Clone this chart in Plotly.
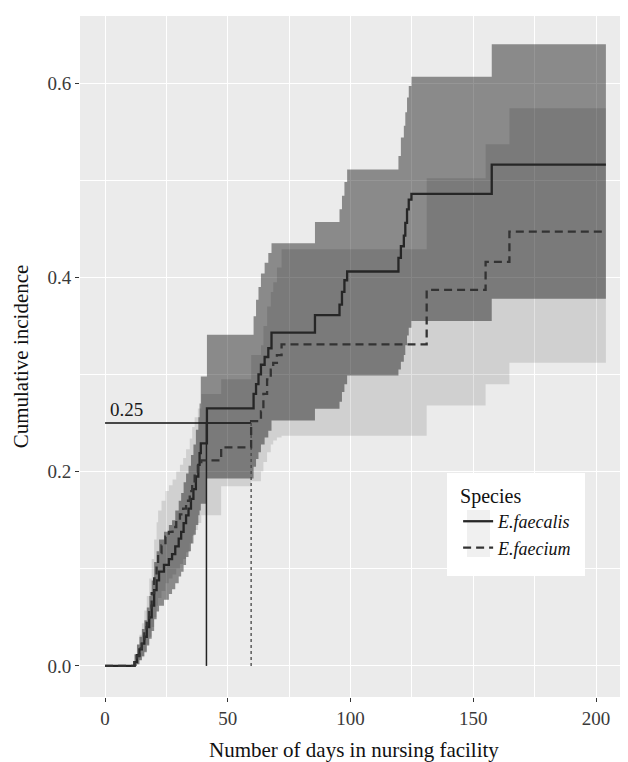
import plotly.graph_objects as go

# ---------------- data ----------------
faecalis_t = [0, 12, 13, 14, 15, 16, 17, 18, 19, 20, 21, 22, 24, 26, 27.3, 28.6, 30, 31, 32, 33,
              34, 35, 36, 37, 38, 38.5, 39, 41.5, 60.5, 61.5, 62.5, 63.5, 65, 66.5, 67.8, 85.5,
              95.5, 96.5, 97.5, 98.6, 119.5, 120.5, 121.7, 122.3, 123, 123.7, 124.8, 157.5, 204]
faecalis_est = [0, .004, .011, .017, .023, .030, .040, .050, .062, .078, .088, .097, .104, .110,
                .115, .123, .131, .138, .147, .155, .162, .172, .182, .195, .207, .219, .229, .265,
                .280, .290, .300, .310, .318, .327, .343, .361, .372, .385, .397, .406, .420, .432,
                .443, .456, .470, .480, .486, .516, .516]
faecalis_lo = [0, 0, .002, .006, .010, .014, .021, .028, .036, .048, .056, .062, .068, .074, .079,
               .085, .092, .097, .104, .112, .118, .126, .135, .145, .155, .160, .167, .193, .205,
               .213, .220, .228, .235, .242, .2526, .2646, .272, .282, .290, .299, .305, .313,
               .320, .330, .340, .348, .355, .378, .378]
faecalis_hi = [0, .012, .022, .030, .038, .047, .060, .072, .088, .107, .118, .130, .138, .145,
               .150, .160, .170, .178, .189, .198, .206, .217, .228, .243, .256, .270, .298, .341,
               .360, .377, .390, .404, .415, .425, .435, .457, .470, .484, .498, .511, .525, .544,
               .556, .570, .585, .597, .6065, .640, .640]

faecium_t = [0, 12, 13, 14, 15, 16, 17, 18, 19, 20, 21, 21.6, 23, 24.6, 26, 27.5, 29, 30.5, 31.8,
             33, 34.5, 35.5, 36.5, 37.8, 39.2, 47.3, 59.5, 63.5, 64.5, 66, 67.5, 68.5, 70, 71.9,
             131, 155, 164.7, 204]
faecium_est = [0, .004, .010, .018, .026, .036, .048, .060, .075, .090, .105, .116, .124, .133,
               .138, .143, .150, .156, .162, .170, .180, .190, .198, .206, .2116, .225, .252,
               .262, .280, .295, .305, .312, .320, .331, .387, .416, .447, .447]
faecium_lo = [0, 0, .001, .005, .009, .015, .022, .030, .040, .050, .062, .070, .077, .085, .090,
              .094, .100, .105, .110, .117, .126, .134, .140, .147, .155, .185, .190, .200, .210,
              .220, .228, .232, .235, .237, .268, .290, .312, .312]
faecium_hi = [0, .012, .022, .032, .044, .057, .072, .090, .110, .130, .148, .160, .170, .180,
              .186, .192, .200, .207, .214, .223, .234, .246, .256, .265, .280, .295, .320, .330,
              .350, .370, .385, .395, .410, .429, .502, .537, .574, .574]

species = ["E.faecalis", "E.faecium"]
threshold = 0.25
median_days = [41.3, 59.5]   # faecalis, faecium

x_ticks = [0, 50, 100, 150, 200]
y_ticks = [0.0, 0.2, 0.4, 0.6]

FONT = "Liberation Serif"

fig = go.Figure()

# confidence bands (faecium underneath, faecalis on top)
for t, lo, hi, col in [(faecium_t, faecium_lo, faecium_hi, "rgba(0,0,0,0.115)"),
                       (faecalis_t, faecalis_lo, faecalis_hi, "rgba(0,0,0,0.41)")]:
    fig.add_trace(go.Scatter(x=t, y=lo, mode="lines", line=dict(width=0, shape="hv"),
                             showlegend=False, hoverinfo="skip"))
    fig.add_trace(go.Scatter(x=t, y=hi, mode="lines", line=dict(width=0, shape="hv"),
                             fill="tonexty", fillcolor=col, showlegend=False, hoverinfo="skip"))

# median reference lines
fig.add_trace(go.Scatter(x=[0, median_days[1]], y=[threshold, threshold], mode="lines",
                         line=dict(color="#111111", width=1.6), showlegend=False, hoverinfo="skip"))
fig.add_trace(go.Scatter(x=[median_days[0], median_days[0]], y=[0, threshold], mode="lines",
                         line=dict(color="#222222", width=1.5), showlegend=False, hoverinfo="skip"))
fig.add_trace(go.Scatter(x=[median_days[1], median_days[1]], y=[0, threshold], mode="lines",
                         line=dict(color="#444444", width=1.3, dash="dot"), showlegend=False,
                         hoverinfo="skip"))

# estimate curves
fig.add_trace(go.Scatter(x=faecalis_t, y=faecalis_est, mode="lines", name="<i>" + species[0] + "</i>",
                         line=dict(color="#262626", width=2.3, shape="hv")))
fig.add_trace(go.Scatter(x=faecium_t, y=faecium_est, mode="lines", name="<i>" + species[1] + "</i>",
                         line=dict(color="#333333", width=2.3, shape="hv", dash="8px,5px")))

fig.add_annotation(x=1, y=threshold, xref="x", yref="y", text="0.25", showarrow=False,
                   xanchor="left", yanchor="bottom", yshift=1,
                   font=dict(family=FONT, size=19, color="#1a1a1a"))

# axis titles
fig.add_annotation(x=0.5, y=-0.078, xref="paper", yref="paper",
                   text="Number of days in nursing facility", showarrow=False,
                   xanchor="center", yanchor="middle", font=dict(family=FONT, size=21, color="#111"))
fig.add_annotation(x=-0.108, y=0.5, xref="paper", yref="paper", text="Cumulative incidence",
                   showarrow=False, textangle=-90, xanchor="center", yanchor="middle",
                   font=dict(family=FONT, size=21, color="#111"))

# legend box and key backgrounds (ggplot style)
fig.add_shape(type="rect", xref="paper", yref="paper", x0=0.6697, x1=0.9215, y0=0.1777, y1=0.3289,
              fillcolor="white", line=dict(width=0), layer="above")
for y0, y1 in [(0.2408, 0.2746), (0.2056, 0.2408)]:
    fig.add_shape(type="rect", xref="paper", yref="paper", x0=0.7062, x1=0.7482, y0=y0, y1=y1,
                  fillcolor="#f0f0f0", line=dict(width=0), layer="above")

axis_common = dict(showgrid=True, gridcolor="white", gridwidth=1.3, zeroline=False,
                   ticks="outside", ticklen=4, tickcolor="#333333", tickwidth=1,
                   showline=False, tickfont=dict(family=FONT, size=19, color="#3a3a3a"))

# the page body has an 8px default margin, so the figure is 8px smaller and margins reduced
fig.update_layout(
    width=620, height=754,
    margin=dict(l=72, r=0, t=8, b=65),
    paper_bgcolor="white", plot_bgcolor="#EBEBEB",
    xaxis=dict(range=[-10.2, 213.0], tickvals=x_ticks, ticktext=[str(v) for v in x_ticks],
               minor=dict(dtick=25, tick0=0, showgrid=True, gridcolor="white", gridwidth=0.6, ticks=""),
               **axis_common),
    yaxis=dict(range=[-0.032, 0.669], tickvals=y_ticks, ticktext=["%.1f" % v for v in y_ticks],
               minor=dict(dtick=0.1, tick0=0, showgrid=True, gridcolor="white", gridwidth=0.6, ticks=""),
               **axis_common),
    legend=dict(x=0.69, y=0.323, xanchor="left", yanchor="top", bgcolor="rgba(0,0,0,0)",
                borderwidth=0, title=dict(text="Species", font=dict(family=FONT, size=20, color="#111")),
                font=dict(family=FONT, size=18, color="#111"), itemwidth=30,
                traceorder="normal"),
    showlegend=True,
)

fig.write_html("out.html")
